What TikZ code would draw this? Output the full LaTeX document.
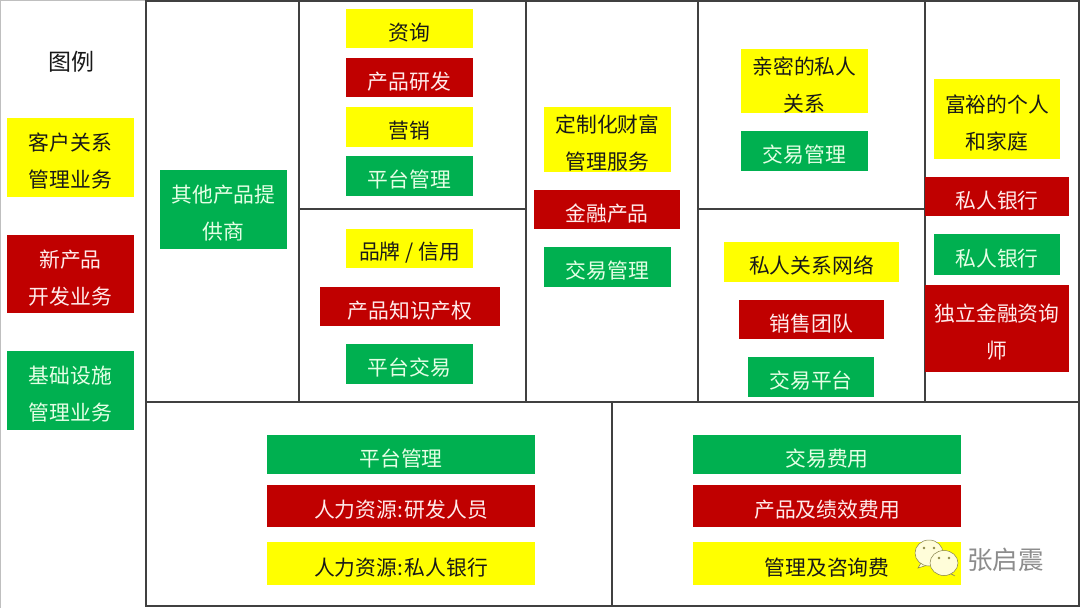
\documentclass[tikz,border=0pt]{standalone}
\usepackage{fontspec}
\setmainfont{Noto Sans CJK SC}
\definecolor{by}{HTML}{FFFF00}
\definecolor{br}{HTML}{C00000}
\definecolor{bg}{HTML}{00B050}
\definecolor{gridc}{HTML}{404040}
\tikzset{
 x=1pt,y=-1pt,
 cell/.style={inner sep=0pt,align=center,font=\fontsize{20.8}{37}\selectfont},
 yel/.style={fill=by},
 red/.style={fill=br},
 grn/.style={fill=bg},
 yelt/.style={cell,text=black!90},
 redt/.style={cell,text=white!92!red},
 grnt/.style={cell,text=white!90!green},
 gridl/.style={draw=gridc,line width=1.15pt},
}
\newcommand{\bx}[7]{%
 \pgfmathsetmacro{\cxv}{(#3+#5)/2}\pgfmathsetmacro{\cyv}{(#4+#6)/2}%
 \pgfmathsetmacro{\cyt}{\cyv+3.8}%
 \pgfmathsetmacro{\wv}{#5-#3}\pgfmathsetmacro{\hv}{#6-#4}%
 \node[#2,inner sep=0pt,minimum width=\wv pt,minimum height=\hv pt] (#1) at (\cxv,\cyv) {};%
 \node[#2t] (#1t) at (\cxv,\cyt) {#7};}
\begin{document}
\begin{tikzpicture}
\useasboundingbox (0,0) rectangle (1080,608);
\fill[white] (0,0) rectangle (1080,608);
\draw[black!25,line width=1pt] (0.5,608) -- (0.5,0.5) -- (146,0.5);
% grid
\coordinate (tl) at (146,1); \coordinate (br0) at (1079,606);
\draw[gridl] (tl) rectangle (br0);
\coordinate (v1t) at (299,1); \coordinate (v1b) at (299,402);
\coordinate (v2t) at (526,1); \coordinate (v2b) at (526,402);
\coordinate (v3t) at (698,1); \coordinate (v3b) at (698,402);
\coordinate (v4t) at (925,1); \coordinate (v4b) at (925,402);
\coordinate (hl) at (146,402); \coordinate (hr) at (1079,402);
\coordinate (h1l) at (299,209); \coordinate (h1r) at (526,209);
\coordinate (h2l) at (698,209); \coordinate (h2r) at (925,209);
\coordinate (v5t) at (612,402); \coordinate (v5b) at (612,606);
\draw[gridl] (v1t)--(v1b) (v2t)--(v2b) (v3t)--(v3b) (v4t)--(v4b) (hl)--(hr) (h1l)--(h1r) (h2l)--(h2r) (v5t)--(v5b);
% legend
\node[cell,text=black!90,font=\fontsize{23}{28}\selectfont] (lg) at (71,62) {图例};
\bx{l1}{yel}{7}{118}{134}{197}{客户关系\\管理业务}
\bx{l2}{red}{7}{235}{134}{313}{新产品\\开发业务}
\bx{l3}{grn}{7}{351}{134}{430}{基础设施\\管理业务}
\bx{a1}{grn}{160}{170}{287}{249}{其他产品提\\供商}
\bx{b1}{yel}{346}{9}{473}{48}{资询}
\bx{b2}{red}{346}{58}{473}{97}{产品研发}
\bx{b3}{yel}{346}{107}{473}{147}{营销}
\bx{b4}{grn}{346}{156}{473}{196}{平台管理}
\bx{c1}{yel}{346}{229}{473}{268}{品牌 / 信用}
\bx{c2}{red}{320}{287}{500}{326}{产品知识产权}
\bx{c3}{grn}{346}{344}{473}{384}{平台交易}
\bx{d1}{yel}{544}{107}{671}{172}{定制化财富\\管理服务}
\bx{d2}{red}{534}{190}{680}{229}{金融产品}
\bx{d3}{grn}{544}{247}{671}{287}{交易管理}
\bx{e1}{yel}{741}{49}{868}{113}{亲密的私人\\关系}
\bx{e2}{grn}{741}{131}{868}{171}{交易管理}
\bx{f1}{yel}{724}{242}{899}{282}{私人关系网络}
\bx{f2}{red}{739}{300}{884}{339}{销售团队}
\bx{f3}{grn}{748}{357}{874}{397}{交易平台}
\bx{g1}{yel}{934}{79}{1060}{159}{富裕的个人\\和家庭}
\bx{g2}{red}{925}{177}{1069}{216}{私人银行}
\bx{g3}{grn}{934}{234}{1060}{275}{私人银行}
\bx{g4}{red}{925}{285}{1069}{372}{独立金融资询\\师}
\bx{h1}{grn}{267}{435}{535}{474}{平台管理}
\bx{h2}{red}{267}{485}{535}{527}{人力资源:\hspace{-4.5pt} 研发人员}
\bx{h3}{yel}{267}{542}{535}{585}{人力资源:\hspace{-4.5pt} 私人银行}
\bx{i1}{grn}{693}{435}{961}{474}{交易费用}
\bx{i2}{red}{693}{485}{961}{527}{产品及绩效费用}
\bx{i3}{yel}{693}{542}{961}{585}{管理及咨询费}
% watermark
\begin{scope}[draw=black!55!yellow,fill=white!85!yellow,line width=0.5pt]
\filldraw (921,563) -- (918,568) -- (928,565) -- cycle;
\filldraw (929,553) ellipse [x radius=14,y radius=13];
\filldraw (950,573) -- (955,576) -- (947,572) -- cycle;
\filldraw (944,563) ellipse [x radius=14,y radius=12.5];
\end{scope}
\fill[black!50!yellow] (924,548) circle (1.4) (934,548) circle (1.4) (939,558) circle (1.4) (949,558) circle (1.4);
\node[cell,text=black!45,font=\fontsize{25.5}{28}\selectfont] (wm) at (1005.5,560) {张启震};
\end{tikzpicture}
\end{document}
